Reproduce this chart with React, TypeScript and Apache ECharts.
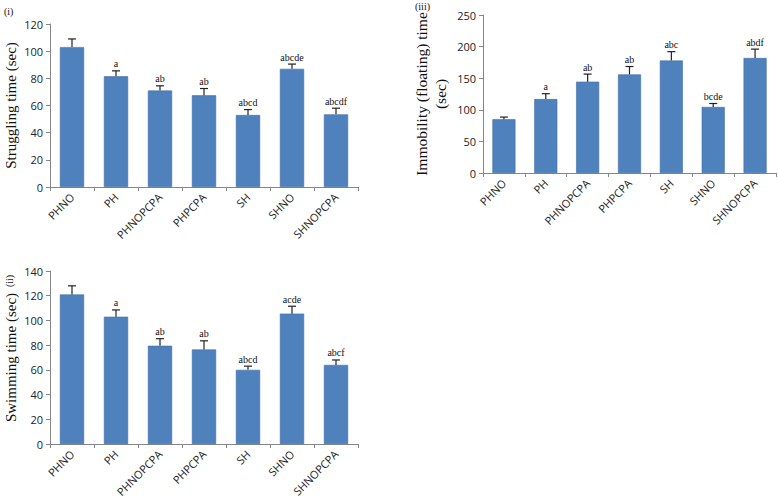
import React, { useEffect, useRef } from "react";
import * as echarts from "echarts";

const categories = ["PHNO", "PH", "PHNOPCPA", "PHPCPA", "SH", "SHNO", "SHNOPCPA"];

const struggling = [103, 81.5, 71, 67.5, 53, 87, 53.5];
const strugglingErr = [6, 4, 3.5, 5, 4, 3.5, 4.5];
const strugglingSig = ["", "a", "ab", "ab", "abcd", "abcde", "abcdf"];

const immobility = [85, 117, 144.5, 156, 178, 104.5, 182];
const immobilityErr = [3.5, 8.5, 12, 12.5, 14, 5.5, 14];
const immobilitySig = ["", "a", "ab", "ab", "abc", "bcde", "abdf"];

const swimming = [121, 103, 79.5, 76.5, 60, 105.5, 64];
const swimmingErr = [7, 5.5, 5.7, 7, 3, 6, 4];
const swimmingSig = ["", "a", "ab", "ab", "abcd", "acde", "abcf"];

const BAR = "#4F81BD";
const AXIS = "#868686";
const SERIF = "'Liberation Serif', 'Times New Roman', serif";
const SANS = "'Open Sans', 'Noto Sans', sans-serif";

function errSeries(idx: number, vals: number[], errs: number[], sigs: string[]) {
  return {
    type: "custom",
    xAxisIndex: idx,
    yAxisIndex: idx,
    silent: true,
    z: 5,
    data: vals.map((v, i) => [i, v, errs[i]]),
    renderItem: (params: any, api: any) => {
      const i = api.value(0);
      const v = api.value(1);
      const e = api.value(2);
      const base = api.coord([i, v]);
      const top = api.coord([i, v + e]);
      const cap = 4;
      return {
        type: "group",
        children: [
          { type: "line", shape: { x1: base[0], y1: base[1], x2: top[0], y2: top[1] }, style: { stroke: "#222", lineWidth: 1.2 } },
          { type: "line", shape: { x1: top[0] - cap, y1: top[1], x2: top[0] + cap, y2: top[1] }, style: { stroke: "#222", lineWidth: 1.2 } },
          {
            type: "text",
            x: top[0],
            y: top[1] - 2,
            style: {
              text: sigs[params.dataIndex],
              fill: "#111",
              font: `10px ${SERIF}`,
              textAlign: "center",
              textVerticalAlign: "bottom",
            },
          },
        ],
      };
    },
  };
}

function xAx(idx: number) {
  return {
    type: "category",
    gridIndex: idx,
    data: categories,
    axisLine: { lineStyle: { color: AXIS } },
    axisTick: { show: true, length: 4, lineStyle: { color: AXIS } },
    axisLabel: { rotate: 45, fontSize: 11, color: "#222", fontFamily: SANS, margin: 8, interval: 0 },
  };
}

function yAx(idx: number, max: number, interval: number, name: string, gap: number, size: number) {
  return {
    type: "value",
    gridIndex: idx,
    min: 0,
    max,
    interval,
    name,
    nameLocation: "middle",
    nameRotate: 90,
    nameGap: gap,
    nameTextStyle: { fontFamily: SERIF, fontSize: size, color: "#111", lineHeight: 19 },
    splitLine: { show: false },
    axisLine: { show: true, lineStyle: { color: AXIS } },
    axisTick: { show: true, length: 4, lineStyle: { color: AXIS } },
    axisLabel: { fontSize: 11, color: "#222", fontFamily: SANS, margin: 7 },
  };
}

function barSeries(idx: number, vals: number[]) {
  return {
    type: "bar",
    xAxisIndex: idx,
    yAxisIndex: idx,
    data: vals,
    barWidth: "55%",
    itemStyle: { color: BAR, borderColor: "#3C6EA8", borderWidth: 0.6 },
  };
}

export default function App() {
  const ref = useRef<HTMLDivElement>(null);
  useEffect(() => {
    if (!ref.current) return;
    const chart = echarts.init(ref.current, null, { renderer: "svg" });
    chart.setOption({
      animation: false,
      backgroundColor: "#fff",
      grid: [
        { left: 50, top: 24, right: 420, bottom: 316 },
        { left: 483, top: 15, right: 2, bottom: 330 },
        { left: 50, top: 271, right: 420, bottom: 59 },
      ],
      xAxis: [xAx(0), xAx(1), xAx(2)],
      yAxis: [
        yAx(0, 120, 20, "Struggling time (sec)", 28, 15),
        yAx(1, 250, 50, "Immobility (floating) time\n(sec)", 33, 15.5),
        yAx(2, 140, 20, "Swimming time (sec)", 28, 15),
      ],
      graphic: [
        { type: "text", left: 4, top: 6, style: { text: "(i)", font: `10px ${SERIF}`, fill: "#111" } },
        { type: "text", left: 415, top: 1, style: { text: "(iii)", font: `10px ${SERIF}`, fill: "#111" } },
        { type: "text", x: 9, y: 281, rotation: Math.PI / 2, style: { text: "(ii)", font: `10px ${SERIF}`, fill: "#111", textAlign: "center", textVerticalAlign: "middle" } },
      ],
      series: [
        barSeries(0, struggling),
        errSeries(0, struggling, strugglingErr, strugglingSig),
        barSeries(1, immobility),
        errSeries(1, immobility, immobilityErr, immobilitySig),
        barSeries(2, swimming),
        errSeries(2, swimming, swimmingErr, swimmingSig),
      ],
    });
    return () => chart.dispose();
  }, []);
  return <div ref={ref} style={{ width: 778, height: 503, position: "absolute", left: 0, top: 0 }} />;
}
